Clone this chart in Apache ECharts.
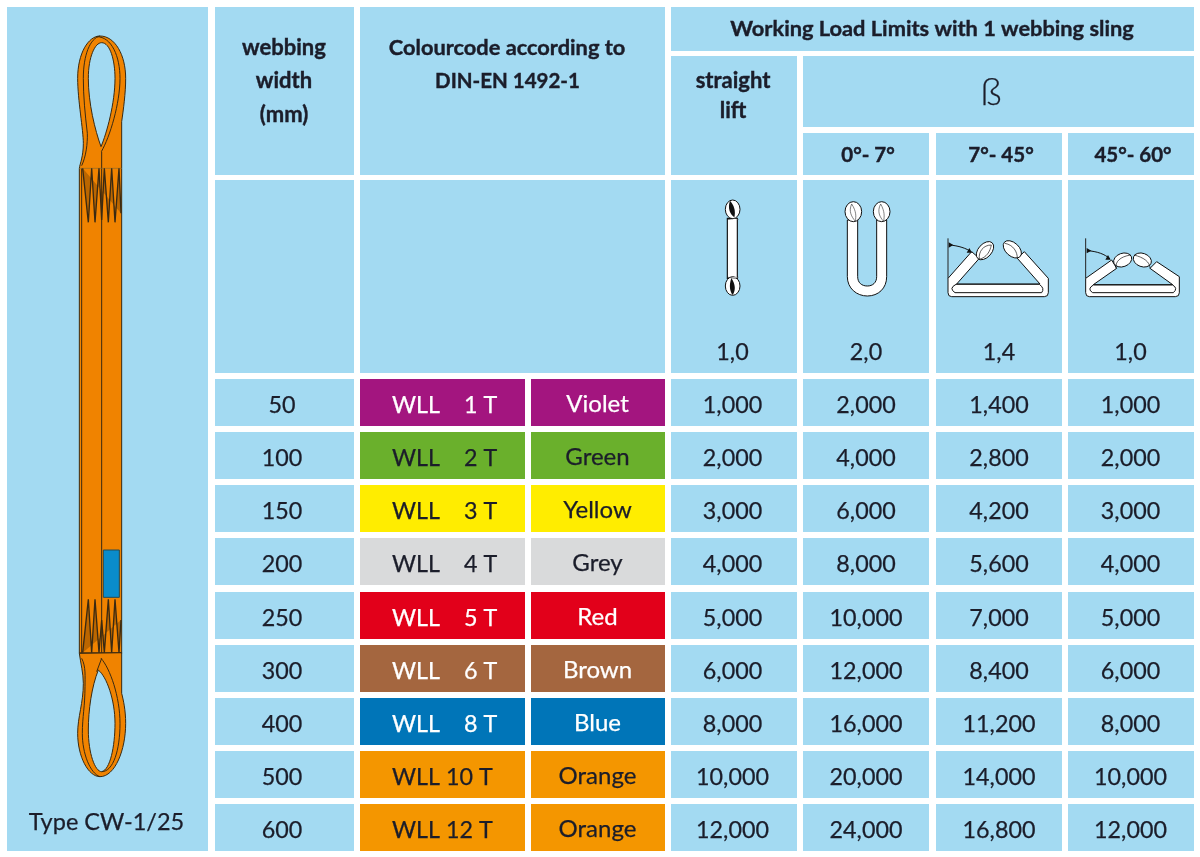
<!DOCTYPE html>
<html>
<head>
<meta charset="utf-8">
<title>Working Load Limits</title>
<script src="https://cdn.jsdelivr.net/npm/echarts@6/dist/echarts.min.js"></script>
<style>
	html, body { margin: 0; padding: 0; background: #fff; }
	#chart { width: 1200px; height: 857px; }
</style>
</head>
<body>
<div id="chart"></div>
<script>
// table values
var webbingWidths = [50, 100, 150, 200, 250, 300, 400, 500, 600];
var wllTonnes = [1, 2, 3, 4, 5, 6, 8, 10, 12];
var colourNames = ['Violet', 'Green', 'Yellow', 'Grey', 'Red', 'Brown', 'Blue', 'Orange', 'Orange'];
var straightLift = [1000, 2000, 3000, 4000, 5000, 6000, 8000, 10000, 12000];
var choked0to7 = [2000, 4000, 6000, 8000, 10000, 12000, 16000, 20000, 24000];
var basket7to45 = [1400, 2800, 4200, 5600, 7000, 8400, 11200, 14000, 16800];
var basket45to60 = [1000, 2000, 3000, 4000, 5000, 6000, 8000, 10000, 12000];
var loadFactors = ['1,0', '2,0', '1,4', '1,0'];
var angleLabels = ['0°- 7°', '7°- 45°', '45°- 60°'];

// styles
var PANEL = '#A3DAF2';
var INK = '#1B1D2A';
var FONT = 'Lato';
var colourStyles = {
	Violet: ['#A3157F', '#fff'],
	Green: ['#6AB02C', INK],
	Yellow: ['#FFED00', INK],
	Grey: ['#D9DADB', INK],
	Red: ['#E2001A', '#fff'],
	Brown: ['#A4663F', '#fff'],
	Blue: ['#0075B8', '#fff'],
	Orange: ['#F49600', INK]
};

// column and row edges of the table, in axis units
var COL = { sling: [7, 208], width: [215, 354], colour: [360, 665], wll: [360, 525], name: [531, 665],
	straight: [671, 797], a: [803, 929], b: [936, 1062], c: [1068, 1194] };
var HEAD = { top: [7, 51], beta: [56, 127], angle: [133, 175], all: [7, 175], lift: [56, 175], icons: [180, 373] };
var ROW_Y = [379, 432, 485, 538, 592, 645, 698, 751, 804];
var ROW_H = 47;
// text centres do not sit quite in the middle of their cells
var MID = { width: 282, name: 597.5, straight: 732.5, a: 866, b: 999, c: 1130.5 };

var cells = [];
function cell(col, row, lines, opt) {
	opt = opt || {};
	cells.push({ x: col, y: row, lines: lines, fill: opt.fill || PANEL, color: opt.color || INK,
		bold: !!opt.bold, size: opt.size || 23.3, family: opt.family, weight: opt.weight });
}

// header
cell(COL.sling, [7, 851], [{ t: 'Type CW-1/25', y: 822, x: 106.5, size: 23.5 }]);
cell(COL.width, HEAD.all, [{ t: 'webbing', y: 48, x: 284 }, { t: 'width', y: 81, x: 284 }, { t: '(mm)', y: 115, x: 284 }], { bold: true, size: 22 });
cell(COL.colour, HEAD.all, [{ t: 'Colourcode according to', y: 48, x: 507 }, { t: 'DIN-EN 1492-1', y: 81, x: 507.5, size: 20.5 }], { bold: true, size: 21.8 });
cell([671, 1194], HEAD.top, [{ t: 'Working Load Limits with 1 webbing sling', y: 29, x: 932 }], { bold: true, size: 21.8 });
cell(COL.straight, HEAD.lift, [{ t: 'straight', y: 81, x: 733 }, { t: 'lift', y: 111, x: 733 }], { bold: true, size: 22 });
cell([803, 1194], HEAD.beta, [{ t: 'ß', y: 93, x: 991 }], { size: 38, weight: 300 });
[COL.a, COL.b, COL.c].forEach(function (c, i) {
	cell(c, HEAD.angle, [{ t: angleLabels[i], y: 155, x: [868, 1001, 1133][i] }], { bold: true, size: 20.5 });
});

// icon row
cell(COL.width, HEAD.icons, []);
cell(COL.colour, HEAD.icons, []);
[COL.straight, COL.a, COL.b, COL.c].forEach(function (c, i) {
	cell(c, HEAD.icons, [{ t: loadFactors[i], y: 352, x: [MID.straight, MID.a, MID.b, MID.c][i] }]);
});

// data rows
var fmt = function (v) { return v.toLocaleString('en-US'); };
webbingWidths.forEach(function (w, i) {
	var r = [ROW_Y[i], ROW_Y[i] + ROW_H];
	var mid = r[0] + 26;
	var st = colourStyles[colourNames[i]];
	cell(COL.width, r, [{ t: String(w), y: mid, x: MID.width }]);
	cell(COL.wll, r, [{ t: 'WLL' + (wllTonnes[i] < 10 ? '    ' : ' ') + wllTonnes[i] + ' T', y: mid, left: 392 }], { fill: st[0], color: st[1] });
	cell(COL.name, r, [{ t: colourNames[i], y: mid - 1, x: MID.name, size: 24 }], { fill: st[0], color: st[1] });
	cell(COL.straight, r, [{ t: fmt(straightLift[i]), y: mid, x: MID.straight }]);
	cell(COL.a, r, [{ t: fmt(choked0to7[i]), y: mid, x: MID.a }]);
	cell(COL.b, r, [{ t: fmt(basket7to45[i]), y: mid, x: MID.b }]);
	cell(COL.c, r, [{ t: fmt(basket45to60[i]), y: mid, x: MID.c }]);
});

function renderCell(params, api) {
	var c = cells[params.dataIndex];
	var p0 = api.coord([api.value(0), api.value(1)]);
	var p1 = api.coord([api.value(2), api.value(3)]);
	var children = [{
		type: 'rect',
		shape: { x: p0[0], y: p0[1], width: p1[0] - p0[0], height: p1[1] - p0[1] },
		style: { fill: c.fill }
	}];
	c.lines.forEach(function (l) {
		var weight = c.weight || (c.bold ? 'bold' : 'normal');
		children.push({
			type: 'text',
			style: {
				text: l.t,
				x: api.coord([l.left != null ? l.left : l.x, 0])[0],
				y: api.coord([0, l.y])[1],
				align: l.left != null ? 'left' : 'center',
				verticalAlign: 'middle',
				fill: c.color,
				stroke: c.color,
				lineWidth: c.bold ? 0.4 : 0.25,
				font: weight + ' ' + (l.size || c.size) + 'px "' + (c.family || FONT) + '", sans-serif'
			}
		});
	});
	return { type: 'group', children: children };
}

// drawing helpers for the pictures, coordinates are 3 units per axis unit
var ORANGE = '#F08300', LINE = '#3A2A12', SHADE = 'rgba(90,50,0,0.35)';
function path(d, fill, stroke, lw) {
	return { type: 'path', shape: { pathData: d }, style: { fill: fill || 'none', stroke: stroke || null, lineWidth: lw == null ? 3 : lw } };
}
function ellipse(cx, cy, rx, ry, rot) {
	var r = rot * Math.PI / 180, dx = rx * Math.cos(r), dy = rx * Math.sin(r);
	return 'M' + (cx - dx) + ',' + (cy - dy) + ' A' + rx + ',' + ry + ' ' + rot + ' 1 1 ' + (cx + dx) + ',' + (cy + dy) +
		' A' + rx + ',' + ry + ' ' + rot + ' 1 1 ' + (cx - dx) + ',' + (cy - dy) + ' Z';
}

function slingTop() {
	return [
		path('M238,505 C240,490 250,470 250,430 C250,390 233,300 233,235 C233,160 265,108 300,108 C345,108 377,165 377,235 C377,280 370,330 365,365 L365,505 L365,1960 L238,1960 Z', ORANGE, LINE),
		path('M303,440 C285,390 265,310 265,235 C265,170 285,128 305,128 C330,128 345,180 345,235 C345,310 320,400 303,440 Z', PANEL, LINE),
		path('M245,497 C258,470 263,430 262,400 C255,340 250,290 250,235 C250,165 270,115 300,108', null, LINE),
		path('M304,455 C330,410 360,310 360,235 C360,170 335,110 290,110', null, LINE),
		path('M305,455 L305,1960', null, LINE),
		path('M245,505 L245,1960', null, LINE),
		path('M238,505 L365,505', null, '#8A6A30', 2),
		path('M248,505 L265,667 L275,505 L285,667 L297,505 L305,660 L313,505 L325,667 L335,505 L345,667 L357,505 L363,640', SHADE, LINE, 4)
	];
}
function slingBottom() {
	return [
		path('M238,400 C242,430 250,460 250,490 C250,550 233,590 233,640 C233,710 265,770 300,770 C345,770 377,690 377,610 C377,570 370,540 365,520 L365,398 Z', ORANGE, LINE),
		path('M295,450 C275,500 265,570 265,630 C265,700 285,755 305,755 C330,750 345,680 345,610 C345,540 320,470 295,450 Z', PANEL, LINE),
		path('M303,415 C330,445 360,530 360,610 C360,690 340,755 305,755', null, LINE),
		path('M245,415 C258,440 255,470 255,500 C255,560 247,590 247,640 C247,700 270,760 300,770', null, LINE),
		path('M305,415 L290,455', null, LINE),
		path('M238,398 L365,398', null, LINE, 2),
		path('M248,398 L265,238 L275,398 L285,238 L297,398 L305,300 L313,398 L325,238 L335,398 L345,238 L357,398 L363,300', SHADE, LINE, 4),
		path('M310,90 L358,90 L358,232 L310,232 Z', '#0A8CCB', '#2A4A50', 3)
	];
}
function liftIcons() {
	var K = '#111';
	return [
		// straight lift
		path('M172,115 L172,295 L202,295 L202,115 Z', '#fff', K, 3.5),
		path(ellipse(188, 88, 22, 28, 0), '#fff', K),
		path(ellipse(188, 318, 22, 28, 0), '#fff', K),
		path('M180,62 C172,85 180,102 193,112 C197,95 194,78 180,62 Z', K),
		path('M184,294 C176,318 180,335 188,345 C198,330 196,312 184,294 Z', K),
		path('M172,118 C185,118 196,112 205,118 M172,292 C185,292 196,298 205,292', '#fff', K, 2),
		// U shape
		path('M532,120 L532,290 C532,325 560,348 592,348 C625,348 650,325 650,290 L650,120 L620,120 L620,290 C620,308 608,318 592,318 C575,318 563,308 563,290 L563,120 Z', '#fff', K),
		path(ellipse(550, 95, 25, 30, 0), '#fff', K),
		path(ellipse(635, 95, 25, 30, 0), '#fff', K),
		path('M545,72 C535,95 545,110 556,124 M545,72 C560,95 558,110 556,124', null, '#444', 2),
		path('M632,72 C620,95 630,112 641,124 M632,72 C645,95 643,110 641,124', null, '#444', 2)
	];
}
function basketIcons() {
	var K = '#111';
	return [
		// 7 to 45 degrees
		path('M54,295 L125,215 L148,235 L80,312 L330,312 L262,235 L283,215 L355,295 L355,338 Q355,350 343,350 L65,350 Q54,350 54,338 Z', '#fff', K),
		path('M78,313 L328,313 Q345,325 335,338 L75,338 Q55,325 78,313 Z', '#fff', K),
		path(ellipse(165, 212, 32, 20, -48), '#fff', K),
		path('M148,238 C145,215 160,195 184,195 M148,238 C170,232 180,215 184,195', null, K, 2),
		path(ellipse(247, 208, 32, 20, 42), '#fff', K),
		path('M262,235 C262,215 250,195 225,190', null, K, 2),
		path('M54,175 L54,295', null, '#222', 3),
		path('M58,195 C85,197 110,205 124,216', null, K, 3),
		path('M56,187 L56,203 L70,195 Z M126,218 L110,218 L118,204 Z', K),
		// 45 to 60 degrees
		path('M467,295 L545,240 L560,265 L490,314 L728,314 L660,265 L680,245 L748,290 L748,338 Q748,350 736,350 L478,350 Q467,350 467,338 Z', '#fff', K),
		path('M490,315 L728,315 Q745,325 730,338 L488,338 Q470,327 490,315 Z', '#fff', K),
		path(ellipse(578, 240, 28, 20, -20), '#fff', K),
		path(ellipse(637, 240, 28, 20, 20), '#fff', K),
		path('M558,266 C555,245 570,230 602,225 M612,225 C640,232 660,245 660,265', null, K, 2),
		path('M467,175 L467,295', null, '#222', 3),
		path('M472,212 C500,214 525,222 540,237', null, K, 3),
		path('M470,204 L470,220 L484,212 Z M542,239 L526,239 L534,225 Z', K)
	];
}

var pictures = [
	{ at: [0, 0], draw: slingTop },
	{ at: [0, 520], draw: slingBottom },
	{ at: [670, 180], draw: liftIcons },
	{ at: [930, 180], draw: basketIcons }
];

function renderPicture(params, api) {
	var pic = pictures[params.dataIndex];
	var p = api.coord(pic.at);
	return { type: 'group', x: p[0], y: p[1], scaleX: 1 / 3, scaleY: 1 / 3, children: pic.draw() };
}

var chart = echarts.init(document.getElementById('chart'), null, { renderer: 'canvas', width: 1200, height: 857 });

chart.setOption({
	animation: false,
	backgroundColor: '#fff',
	grid: { left: 0, right: 0, top: 0, bottom: 0 },
	xAxis: { type: 'value', min: 0, max: 1200, show: false },
	yAxis: { type: 'value', min: 0, max: 857, inverse: true, show: false },
	series: [{
		type: 'custom',
		name: 'table',
		silent: true,
		clip: false,
		renderItem: renderCell,
		data: cells.map(function (c) { return [c.x[0], c.y[0], c.x[1], c.y[1]]; })
	}, {
		type: 'custom',
		name: 'pictures',
		silent: true,
		clip: false,
		renderItem: renderPicture,
		data: pictures.map(function (p) { return p.at; })
	}]
});
</script>
</body>
</html>
